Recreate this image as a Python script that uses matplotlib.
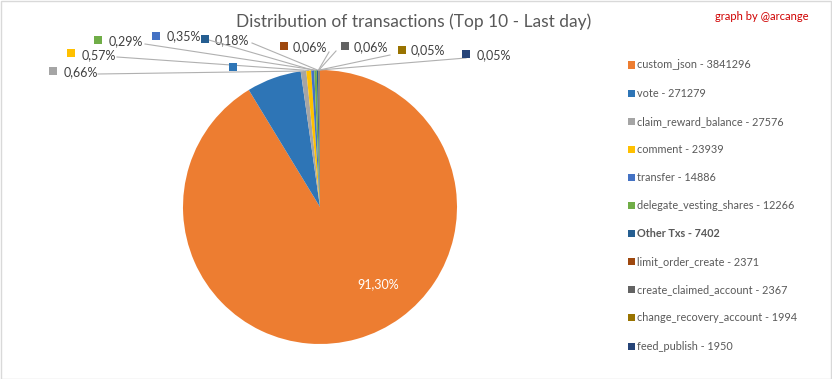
import matplotlib.pyplot as plt
import numpy as np
from matplotlib.patches import Rectangle

plt.rcParams['font.family'] = ['Lato', 'DejaVu Sans']

names = ['custom_json', 'vote', 'claim_reward_balance', 'comment', 'transfer',
         'delegate_vesting_shares', 'Other Txs', 'limit_order_create',
         'create_claimed_account', 'change_recovery_account', 'feed_publish']
counts = [3841296, 271279, 27576, 23939, 14886, 12266, 7402, 2371, 2367, 1994, 1950]
colors = ['#ED7D31', '#2E75B6', '#A5A5A5', '#FFC000', '#4472C4', '#70AD47',
          '#255E91', '#9E480E', '#636363', '#997300', '#264478']

W, H = 832, 379
fig = plt.figure(figsize=(W / 100, H / 100), dpi=100)


def fx(x):
    return x / W


def fy(y):
    return 1 - y / H


# pie centre (320, 207) px, radius 137 px
cx, cy, r = 320, 207, 137
ax = fig.add_axes([fx(cx - r), fy(cy + r), 2 * r / W, 2 * r / H])
wedges, _ = ax.pie(counts, colors=colors, startangle=90, counterclock=False,
                   wedgeprops=dict(linewidth=0))
ax.set_xlim(-1, 1)
ax.set_ylim(-1, 1)
ax.set_aspect('auto')
ax.axis('off')

total = sum(counts)
pcts = [c / total * 100 for c in counts]

# label layout: marker pos, text pos, leader line end (pixels)
label_pos = {
    1: ((233, 67), (243, 68), None),
    2: ((53, 71), (64, 72), (98, 74)),
    3: ((71, 53), (82, 55), (117, 57)),
    4: ((156, 36), (167, 36), (202, 38)),
    5: ((98, 40), (109, 41), (145, 44)),
    6: ((205, 39), (215, 40), (252, 43)),
    7: ((284, 46), (293, 47), (329, 52)),
    8: ((345, 46), (354, 47), (336, 51)),
    9: ((402, 50), (411, 50), (390, 55)),
    10: ((466, 54), (477, 55), (466, 58)),
}

for i, w in enumerate(wedges):
    if i == 0:
        continue
    ang = np.deg2rad((w.theta1 + w.theta2) / 2)
    px_ = cx + r * np.cos(ang)
    py_ = cy - r * np.sin(ang)
    (mx, my), (tx, ty), lend = label_pos[i]
    if lend is not None:
        fig.add_artist(plt.Line2D([fx(px_), fx(lend[0])], [fy(py_), fy(lend[1])],
                                  color='#B0B0B0', lw=0.8, zorder=3))
    fig.add_artist(Rectangle((fx(mx - 4), fy(my + 4)), 8 / W, 8 / H,
                             facecolor=colors[i], edgecolor='none', zorder=4))
    tcol = 'white' if i == 1 else '#404040'
    fig.text(fx(tx), fy(ty), f'{pcts[i]:.2f}%'.replace('.', ','),
             ha='left', va='center', fontsize=9, color=tcol, zorder=2)

# main slice label
fig.text(fx(378), fy(284), f'{pcts[0]:.2f}%'.replace('.', ','), ha='center',
         va='center', fontsize=9, color='white')

# title and credit
fig.text(fx(414), fy(22), 'Distribution of transactions (Top 10 - Last day)',
         ha='center', va='center', fontsize=12.5, color='#595959')
fig.text(fx(762), fy(17), 'graph by @arcange', ha='center', va='center',
         fontsize=8, color='#D00000')

# legend
for i, (n, c) in enumerate(zip(names, counts)):
    y = 65 + i * 28.1
    fig.add_artist(Rectangle((fx(628), fy(y + 3.5)), 7 / W, 7 / H,
                             facecolor=colors[i], edgecolor='none'))
    fig.text(fx(637), fy(y), f'{n} - {c}', ha='left', va='center',
             fontsize=7.8, color='#595959',
             fontweight='bold' if n == 'Other Txs' else 'normal')

fig.add_artist(Rectangle((0.5 / W, 0.5 / H), 1 - 1.5 / W, 1 - 1.5 / H,
                         transform=fig.transFigure, facecolor='none',
                         edgecolor='#D9D9D9', lw=1))

fig.savefig('out.png', dpi=100)
